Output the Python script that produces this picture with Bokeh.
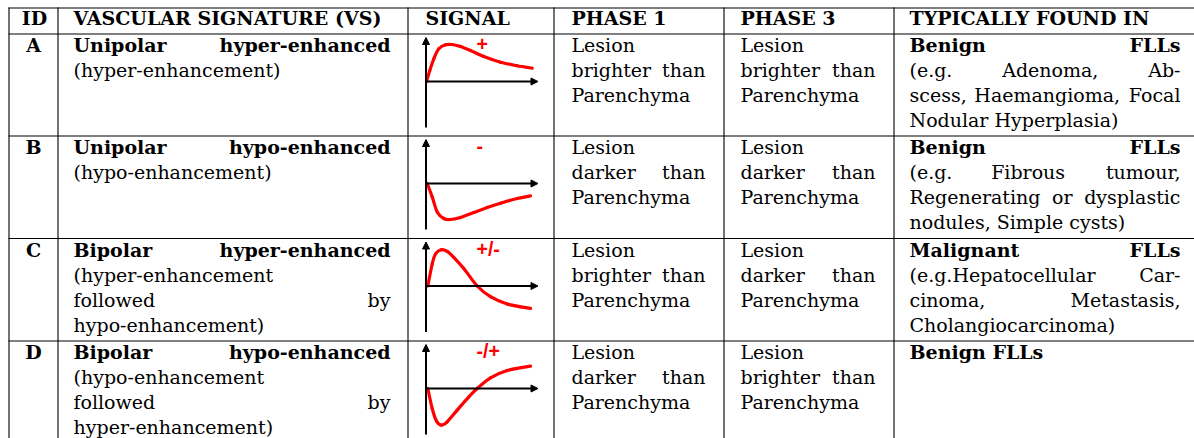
import glob
import os
import struct

from bokeh.core.properties import value
from bokeh.embed import file_html
from bokeh.models import Arrow, ColumnDataSource, NormalHead, Range1d
from bokeh.plotting import figure
from bokeh.resources import INLINE

# ---------------------------------------------------------------- data
HEADERS = ["ID", "VASCULAR SIGNATURE (VS)", "SIGNAL", "PHASE 1", "PHASE 3",
           "TYPICALLY FOUND IN"]
IDS = ["A", "B", "C", "D"]
VS_TEXT = [
    ["Unipolar hyper-enhanced", "(hyper-enhancement)"],
    ["Unipolar hypo-enhanced", "(hypo-enhancement)"],
    ["Bipolar hyper-enhanced", "(hyper-enhancement", "followed by",
     "hypo-enhancement)"],
    ["Bipolar hypo-enhanced", "(hypo-enhancement", "followed by",
     "hyper-enhancement)"],
]
PHASE1_TEXT = [
    ["Lesion", "brighter than", "Parenchyma"],
    ["Lesion", "darker than", "Parenchyma"],
    ["Lesion", "brighter than", "Parenchyma"],
    ["Lesion", "darker than", "Parenchyma"],
]
PHASE3_TEXT = [
    ["Lesion", "brighter than", "Parenchyma"],
    ["Lesion", "darker than", "Parenchyma"],
    ["Lesion", "darker than", "Parenchyma"],
    ["Lesion", "brighter than", "Parenchyma"],
]
FOUND_TEXT = [
    ["Benign FLLs", "(e.g. Adenoma, Ab-", "scess, Haemangioma, Focal",
     "Nodular Hyperplasia)"],
    ["Benign FLLs", "(e.g. Fibrous tumour,", "Regenerating or dysplastic",
     "nodules, Simple cysts)"],
    ["Malignant FLLs", "(e.g.Hepatocellular Car-", "cinoma, Metastasis,",
     "Cholangiocarcinoma)"],
    ["Benign FLLs"],
]
SIGNAL_LABELS = ["+", "-", "+/-", "-/+"]

# signal curves (time offset from the axis origin, signal level)
SIGNAL_A_T = [0.5, 3.8, 7.8, 12.8, 19.5, 26.2, 34.5, 44.5, 57.8, 74.5, 91.2, 106.2]
SIGNAL_A_V = [0.0, 11.0, 22.7, 32.7, 36.7, 37.0, 35.0, 31.0, 25.0, 19.3, 15.7, 13.3]
SIGNAL_B_T = [1.2, 6.2, 11.2, 17.8, 24.5, 34.5, 47.8, 61.2, 74.5, 91.2, 104.5]
SIGNAL_B_V = [0.0, -13.4, -28.4, -35.0, -36.0, -34.0, -29.0, -24.0, -19.7, -15.0, -12.4]
SIGNAL_C_T = [1.8, 6.2, 9.5, 15.2, 21.2, 27.8, 37.8, 51.2, 64.5, 81.2, 104.5]
SIGNAL_C_V = [0.0, 22.0, 32.0, 36.3, 34.6, 28.6, 17.6, 0.0, -10.7, -18.0, -22.4]
SIGNAL_D_T = [1.8, 6.2, 10.5, 15.2, 21.2, 31.2, 42.8, 51.2, 64.5, 81.2, 104.5]
SIGNAL_D_V = [0.0, -20.0, -32.6, -36.6, -33.3, -21.6, -8.3, 0.0, 10.7, 18.0, 22.4]

# ---------------------------------------------------------------- text metrics
FONT = "DejaVu Serif"
FONT_SIZE = 19.0


def _find_font(name):
    for root in ("/usr/share/fonts", "/usr/local/share/fonts",
                 os.path.expanduser("~/.fonts"), os.path.expanduser("~/.local/share/fonts")):
        hits = glob.glob(os.path.join(root, "**", name), recursive=True)
        if hits:
            return hits[0]
    return None


def _load_metrics(path):
    with open(path, "rb") as f:
        data = f.read()
    num = struct.unpack(">H", data[4:6])[0]
    tables = {}
    for i in range(num):
        tag, _cs, off, ln = struct.unpack(">4sIII", data[12 + 16 * i:28 + 16 * i])
        tables[tag.decode("latin1")] = off
    head = tables["head"]
    upem = struct.unpack(">H", data[head + 18:head + 20])[0]
    hhea = tables["hhea"]
    nhm = struct.unpack(">H", data[hhea + 34:hhea + 36])[0]
    hmtx = tables["hmtx"]
    adv = [struct.unpack(">H", data[hmtx + 4 * i:hmtx + 4 * i + 2])[0] for i in range(nhm)]
    cmap = tables["cmap"]
    n = struct.unpack(">H", data[cmap + 2:cmap + 4])[0]
    sub = None
    for i in range(n):
        pid, eid, off = struct.unpack(">HHI", data[cmap + 4 + 8 * i:cmap + 12 + 8 * i])
        fmt = struct.unpack(">H", data[cmap + off:cmap + off + 2])[0]
        if fmt == 4 and pid in (0, 3):
            sub = cmap + off
            break
    segx2 = struct.unpack(">H", data[sub + 6:sub + 8])[0]
    seg = segx2 // 2
    ends = struct.unpack(">%dH" % seg, data[sub + 14:sub + 14 + segx2])
    starts = struct.unpack(">%dH" % seg, data[sub + 16 + segx2:sub + 16 + 2 * segx2])
    deltas = struct.unpack(">%dh" % seg, data[sub + 16 + 2 * segx2:sub + 16 + 3 * segx2])
    rpos = sub + 16 + 3 * segx2
    roffs = struct.unpack(">%dH" % seg, data[rpos:rpos + segx2])

    def gid(ch):
        c = ord(ch)
        for i in range(seg):
            if starts[i] <= c <= ends[i]:
                if roffs[i] == 0:
                    return (c + deltas[i]) & 0xFFFF
                addr = rpos + 2 * i + roffs[i] + 2 * (c - starts[i])
                g = struct.unpack(">H", data[addr:addr + 2])[0]
                return (g + deltas[i]) & 0xFFFF if g else 0
        return 0

    def width(s):
        return sum(adv[min(gid(ch), nhm - 1)] for ch in s) / upem

    return width


def _fallback(bold):
    k = 0.64 if bold else 0.58

    def width(s):
        tot = 0.0
        for ch in s:
            if ch in "il.,;:'|!() ":
                tot += 0.34
            elif ch.isupper() or ch in "mwMW":
                tot += k + 0.18
            else:
                tot += k
        return tot
    return width


_metrics = {}
for _bold, _file in ((False, "DejaVuSerif.ttf"), (True, "DejaVuSerif-Bold.ttf")):
    try:
        _p = _find_font(_file)
        _metrics[_bold] = _load_metrics(_p) if _p else _fallback(_bold)
    except Exception:
        _metrics[_bold] = _fallback(_bold)


def text_width(s, bold):
    return _metrics[bold](s) * FONT_SIZE


# ---------------------------------------------------------------- layout
W, H = 1194, 438
X_EDGES = [8, 57, 407, 553, 723, 893, 1194]
HEADER_TOP = 7
ROW_TOPS = [33, 135, 237.5, 340]
TEXT_BOX = {1: (73, 390), 3: (571, 705), 4: (740, 875), 5: (909, 1180)}
LINE_STEP = 25
FIRST_BASE = 19.3
TEXT_DY = -7.5   # correction for where the renderer anchors the text

p = figure(width=W, height=H, x_range=Range1d(0, W), y_range=Range1d(H, 0),
           output_backend="svg", toolbar_location=None, min_border=0,
           background_fill_color="white", border_fill_color="white")
p.axis.visible = False
p.grid.visible = False
p.outline_line_color = None

# table rules
h_ys = [HEADER_TOP + 0.5] + [t + 0.5 for t in ROW_TOPS]
p.segment(x0=[X_EDGES[0]] * len(h_ys), x1=[X_EDGES[-1]] * len(h_ys), y0=h_ys, y1=h_ys,
          line_color="black", line_width=1.1)
v_xs = [x + 0.5 for x in X_EDGES[:-1]]
p.segment(x0=v_xs, x1=v_xs, y0=[HEADER_TOP] * len(v_xs), y1=[H + 2] * len(v_xs),
          line_color="black", line_width=1.1)

# text collection
groups = {}


def add(txt, x, y, bold, align):
    g = groups.setdefault((bold, align), {"x": [], "y": [], "t": []})
    g["x"].append(x)
    g["y"].append(y + TEXT_DY)
    g["t"].append(txt)


def place_cell(lines, col, top, bold_first):
    left, right = TEXT_BOX[col]
    for k, line in enumerate(lines):
        bold = bold_first and k == 0
        y = top + FIRST_BASE + LINE_STEP * k
        words = line.split(" ")
        justify = len(words) > 1 and k < len(lines) - 1
        if justify:
            ws = [text_width(w, bold) for w in words]
            gap = max(4.0, (right - left - sum(ws)) / (len(words) - 1))
            x = left
            for i, w in enumerate(words[:-1]):
                add(w, x, y, bold, "left")
                x += ws[i] + gap
            add(words[-1], right, y, bold, "right")
        else:
            add(line, left, y, bold, "left")


# header
header_base = HEADER_TOP + 18
add(HEADERS[0], 34, header_base, True, "center")
header_lefts = [None, 73, 425, 571, 740, 909]
for i in range(1, 6):
    add(HEADERS[i], header_lefts[i], header_base, True, "left")

for r in range(4):
    top = ROW_TOPS[r]
    add(IDS[r], 33, top + FIRST_BASE, True, "center")
    place_cell(VS_TEXT[r], 1, top, True)
    place_cell(PHASE1_TEXT[r], 3, top, False)
    place_cell(PHASE3_TEXT[r], 4, top, False)
    place_cell(FOUND_TEXT[r], 5, top, True)

for (bold, align), g in groups.items():
    p.text(x="x", y="y", text="t", source=ColumnDataSource(g),
           text_font=value(FONT), text_font_size="%.1fpx" % FONT_SIZE,
           text_font_style="bold" if bold else "normal",
           text_align=align, text_baseline="alphabetic", text_color="black")


# signal sketches: axes with arrow heads and a smooth (Catmull-Rom -> Bezier) curve
def smooth_segments(xs, ys):
    n = len(xs)
    seg = {k: [] for k in ("x0", "y0", "x1", "y1", "cx0", "cy0", "cx1", "cy1")}
    for i in range(n - 1):
        im1 = max(i - 1, 0)
        ip2 = min(i + 2, n - 1)
        seg["x0"].append(xs[i])
        seg["y0"].append(ys[i])
        seg["x1"].append(xs[i + 1])
        seg["y1"].append(ys[i + 1])
        seg["cx0"].append(xs[i] + (xs[i + 1] - xs[im1]) / 6.0)
        seg["cy0"].append(ys[i] + (ys[i + 1] - ys[im1]) / 6.0)
        seg["cx1"].append(xs[i + 1] - (xs[ip2] - xs[i]) / 6.0)
        seg["cy1"].append(ys[i + 1] - (ys[ip2] - ys[i]) / 6.0)
    return seg


curves = [(SIGNAL_A_T, SIGNAL_A_V), (SIGNAL_B_T, SIGNAL_B_V),
          (SIGNAL_C_T, SIGNAL_C_V), (SIGNAL_D_T, SIGNAL_D_V)]
AX_X = 425.5
for r in range(4):
    top = ROW_TOPS[r]
    oy = top + 48
    p.add_layout(Arrow(end=NormalHead(size=7, line_color="black", fill_color="black",
                                      line_width=1),
                       x_start=AX_X, y_start=top + 94, x_end=AX_X, y_end=top + 4,
                       line_color="black", line_width=2))
    p.add_layout(Arrow(end=NormalHead(size=7, line_color="black", fill_color="black",
                                      line_width=1),
                       x_start=AX_X, y_start=oy, x_end=537.5, y_end=oy,
                       line_color="black", line_width=2))
    ts, vs = curves[r]
    seg = smooth_segments([AX_X + t for t in ts], [oy - v for v in vs])
    p.bezier(x0="x0", y0="y0", x1="x1", y1="y1", cx0="cx0", cy0="cy0",
             cx1="cx1", cy1="cy1", source=ColumnDataSource(seg),
             line_color="#ff0000", line_width=3.2, line_cap="round")

p.text(x=[476] * 4, y=[t + 18 + TEXT_DY for t in ROW_TOPS], text=SIGNAL_LABELS,
       text_font=value("Liberation Sans"), text_font_size="19.5px",
       text_font_style="bold", text_color="#ff0000", text_align="left",
       text_baseline="alphabetic")

open("out.html", "w").write(file_html(p, INLINE))
